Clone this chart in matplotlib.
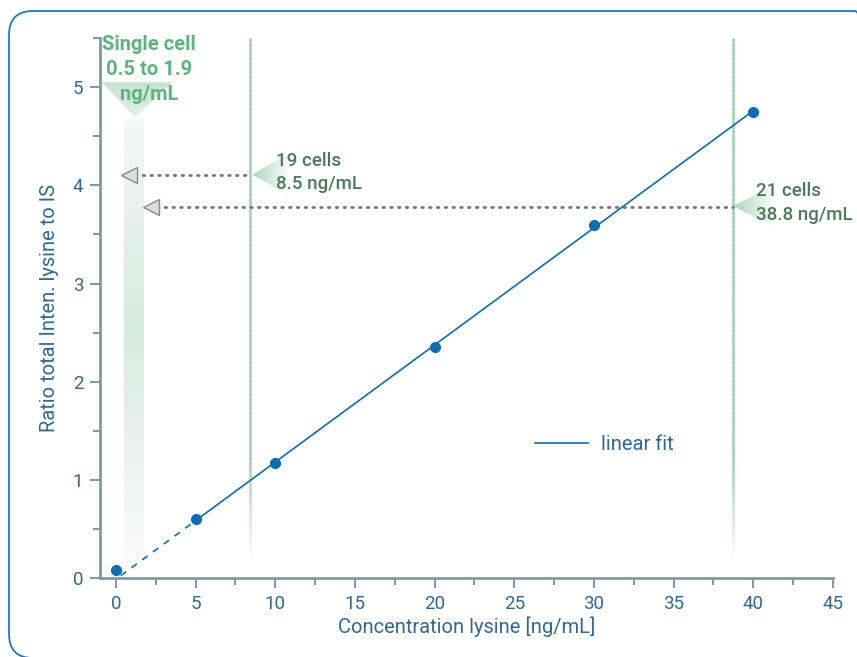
import numpy as np
from matplotlib import pyplot as plt
from matplotlib.patches import Polygon, FancyBboxPatch
from matplotlib.collections import LineCollection
from matplotlib.ticker import MultipleLocator
from matplotlib.colors import to_rgb

# Daten
conc = [0, 5, 10, 20, 30, 40]
ratio = [0.08, 0.60, 1.17, 2.35, 3.60, 4.75]

cell_lines = [8.4, 38.7]          # 19 cells / 21 cells
cell_labels = ['19 cells\n8.5 ng/mL', '21 cells\n38.8 ng/mL']
cell_levels = [4.11, 3.78]        # Höhe der Pfeile
arrow_tips = [0.38, 1.76]
single_band = (0.5, 1.75)
single_label = 'Single cell\n0.5 to 1.9\nng/mL'

blue = '#0a6db5'
txt_blue = '#2f6896'
spine_col = '#8299a6'
green_line = '#a3d3b2'
green_dark = '#4b7a5b'
green_txt = '#5db57d'

plt.rcParams['font.family'] = ['Roboto', 'DejaVu Sans']

fig = plt.figure(figsize=(8.57, 6.57), dpi=100)
ax = fig.add_axes([0.1167, 0.1202, 0.972 - 0.1167, 0.942 - 0.1202])
ax.set_xlim(-1, 45)
ax.set_ylim(0, 5.5)


def gradient_patch(verts, img, extent):
    poly = Polygon(verts, closed=True, facecolor='none', edgecolor='none')
    ax.add_patch(poly)
    im = ax.imshow(img, extent=extent, aspect='auto', origin='lower',
                   interpolation='bilinear', zorder=1)
    im.set_clip_path(poly)


g = np.array(to_rgb('#9fd0b0'))

# Band für Einzelzelle (vertikal verlaufend)
ys = np.linspace(0, 1, 200)
alpha = np.clip(np.interp(ys, [0, 0.05, 0.55, 1.0], [0.0, 0.08, 0.42, 0.12]), 0, 1)
img = np.zeros((200, 2, 4))
img[..., :3] = g
img[..., 3] = alpha[:, None]
x0, x1 = single_band
gradient_patch([(x0, 0), (x1, 0), (x1, 4.69), (x0, 4.69)], img, (x0, x1, 0, 4.69))

# Dreieck oben
img = np.zeros((50, 2, 4))
img[..., :3] = g
img[..., 3] = np.linspace(0.3, 0.6, 50)[:, None]
gradient_patch([(-0.88, 5.05), (3.52, 5.05), (1.2, 4.69)], img, (-0.88, 3.52, 4.69, 5.05))

# Dreiecke neben den Linien (horizontal verlaufend)
tri_geom = [(8.56, 4.11, 10.95, 4.34, 3.89), (38.7, 3.79, 41.5, 4.01, 3.56)]
for xa, ya, xr, yt, yb in tri_geom:
    img = np.zeros((2, 50, 4))
    img[..., :3] = g
    img[..., 3] = np.linspace(0.85, 0.0, 50)[None, :]
    gradient_patch([(xa, ya), (xr, yt), (xr, yb)], img, (xa, xr, yb, yt))

# senkrechte Linien, unten ausgeblendet
for xv in cell_lines:
    yy = np.linspace(0, 5.5, 120)
    segs = [[(xv, yy[i]), (xv, yy[i + 1])] for i in range(len(yy) - 1)]
    a = np.clip((yy[:-1] - 0.15) / 1.0, 0, 1)
    cols = [(*to_rgb(green_line), ai) for ai in a]
    ax.add_collection(LineCollection(segs, colors=cols, linewidths=2, zorder=2))

# gepunktete Pfeile
for xv, yl, tip in zip(cell_lines, cell_levels, arrow_tips):
    ax.plot([tip + 0.3, xv], [yl, yl], color='#777777', lw=2,
            linestyle=(0, (0.6, 2.2)), dash_capstyle='round', zorder=3)
    ax.plot([tip + 0.45], [yl], marker='<', markersize=11, markerfacecolor='#dddddd',
            markeredgecolor='#888888', markeredgewidth=1, zorder=4)

# Texte
ax.text(2.1, 5.535, single_label, color=green_txt, fontsize=14.5, fontweight='bold',
        ha='center', va='top', linespacing=1.4, clip_on=False, zorder=5)
text_pos = [(10.07, 4.13), (40.15, 3.82)]
for (tx, ty), lab in zip(text_pos, cell_labels):
    ax.text(tx, ty, lab, color=green_dark, fontsize=13.5, fontweight='medium',
            ha='left', va='center', linespacing=1.4, clip_on=False, zorder=5)

# lineare Anpassung
slope, icpt = np.polyfit(conc[1:], ratio[1:], 1)
xs = np.array([5, 40])
fit_line, = ax.plot(xs, slope * xs + icpt, color=blue, lw=1.2, zorder=4, label='linear fit')
xd = np.array([0.3, 5])
ax.plot(xd, slope * xd + icpt, color=blue, lw=1.2, linestyle=(0, (4, 4)), zorder=4)
ax.plot(conc, ratio, 'o', color=blue, markersize=7, zorder=6, clip_on=False)

leg = ax.legend(handles=[fit_line], loc='center left', bbox_to_anchor=(0.569, 0.248),
                frameon=False, handlelength=2.6, handletextpad=0.65, fontsize=14.5,
                labelcolor=txt_blue)

# Achsen
for s in ['top', 'right']:
    ax.spines[s].set_visible(False)
for s in ['left', 'bottom']:
    ax.spines[s].set_color(spine_col)
    ax.spines[s].set_linewidth(2)
ax.xaxis.set_major_locator(MultipleLocator(5))
ax.xaxis.set_minor_locator(MultipleLocator(2.5))
ax.yaxis.set_major_locator(MultipleLocator(1))
ax.yaxis.set_minor_locator(MultipleLocator(0.5))
ax.tick_params(which='major', length=7, width=1.5, color=spine_col, labelsize=13.5,
               labelcolor=txt_blue, pad=5)
ax.tick_params(which='minor', length=5, width=1.5, color=spine_col)
ax.set_xlabel('Concentration lysine [ng/mL]', fontsize=14.5, color=txt_blue, labelpad=3)
ax.set_ylabel('Ratio total Inten. lysine to IS', fontsize=14.5, color=txt_blue, labelpad=10)

# abgerundeter Rahmen
frame = FancyBboxPatch((0.09, -0.01), 8.70, 6.47, boxstyle='round,pad=0,rounding_size=0.24',
                       transform=fig.dpi_scale_trans, fill=False, edgecolor='#1f78c1', lw=1.3)
fig.add_artist(frame)

fig.savefig('out.png', dpi=100)
